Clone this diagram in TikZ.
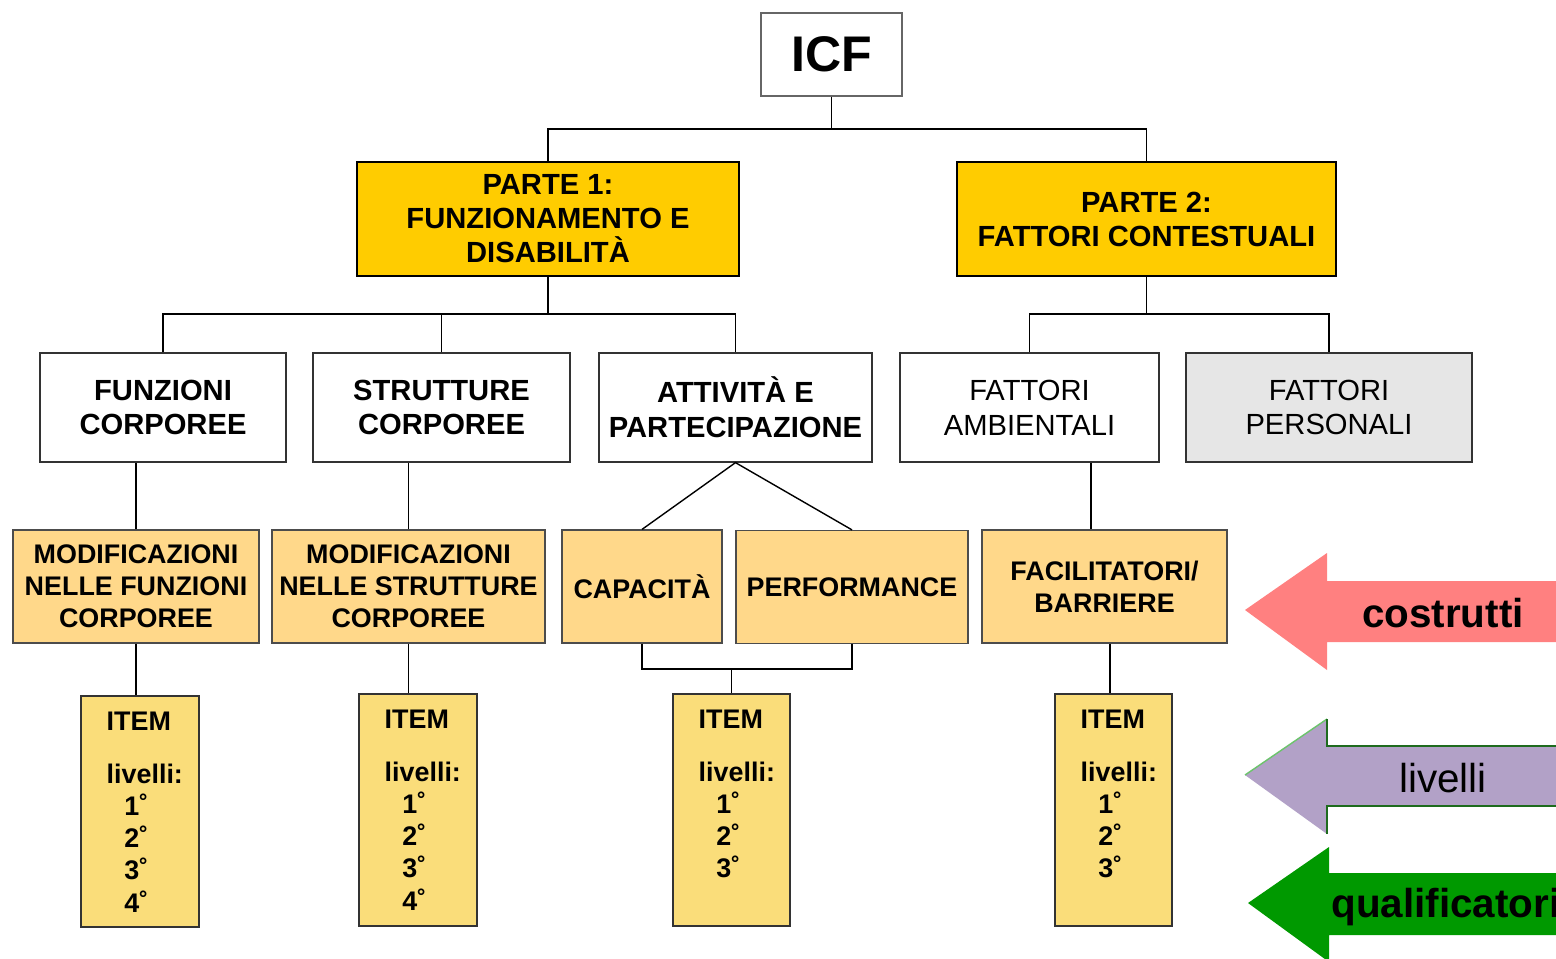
\documentclass[tikz,border=0pt]{standalone}
\usepackage{fontspec}
\setmainfont{Liberation Sans}
\usetikzlibrary{calc}
\definecolor{gold}{HTML}{FFCC00}
\definecolor{lorange}{HTML}{FFD88A}
\definecolor{itemy}{HTML}{FADD7A}
\definecolor{pgray}{HTML}{E6E6E6}
\definecolor{salmon}{HTML}{FF8080}
\definecolor{lilac}{HTML}{B2A1C7}
\definecolor{qgreen}{HTML}{009900}
\definecolor{dgreen}{HTML}{1E6B1E}
\definecolor{lgreen}{HTML}{6CC46C}
\begin{document}
\begin{tikzpicture}[x=0.02cm,y=-0.02cm,
  sz/.style 2 args={minimum width=#1*0.02cm, minimum height=#2*0.02cm},
  basebox/.style={inner sep=0pt, align=center, line width=0.7pt},
  wbox/.style={basebox, draw=black!80, fill=white, font=\bfseries\fontsize{16.6}{19.8}\selectfont},
  pbox/.style={basebox, draw=black, fill=gold, line width=1.2pt, font=\bfseries\fontsize{16.6}{19.3}\selectfont},
  obox/.style={basebox, draw=black!70, fill=lorange, font=\bfseries\fontsize{15.3}{18.2}\selectfont},
  ibox/.style={basebox, draw=black!80, fill=itemy},
  itext/.style={inner sep=0pt, align=left, anchor=north west, font=\bfseries\fontsize{15.3}{18.3}\selectfont},
  conn/.style={line width=0.8pt, black},
  arrowtext/.style={inner sep=0pt, font=\fontsize{23}{26}\selectfont}
]
\clip (0,0) rectangle (1556,958);
\fill[white] (0,0) rectangle (1556,958);

% top
\node[wbox, draw=black!60, sz={141}{83}, font=\bfseries\fontsize{28.5}{30}\selectfont] (icf) at (831.5,54.5) {ICF};
\node[pbox, sz={382}{114}] (p1) at (548,219) {PARTE 1:\\FUNZIONAMENTO E\\DISABILITÀ};
\node[pbox, sz={379}{114}] (p2) at (1146.5,219) {PARTE 2:\\FATTORI CONTESTUALI};

% level 2
\node[wbox, sz={246}{109}] (fc) at (163,407.5) {\raisebox{-3pt}{\parbox{4cm}{\centering FUNZIONI\\CORPOREE}}};
\node[wbox, sz={257}{109}] (sc) at (441.5,407.5) {\raisebox{-3pt}{\parbox{4cm}{\centering STRUTTURE\\CORPOREE}}};
\node[wbox, sz={273}{109}] (ap) at (735.5,407.5) {ATTIVITÀ E\\PARTECIPAZIONE};
\node[wbox, sz={259}{109}, font=\fontsize{16.6}{19.8}\selectfont] (fa) at (1029.5,407.5) {\raisebox{-2pt}{\parbox{4cm}{\centering FATTORI\\AMBIENTALI}}};
\node[wbox, sz={286}{109}, fill=pgray, font=\fontsize{16.6}{19.8}\selectfont] (fp) at (1329,407.5) {\raisebox{-2pt}{\parbox{4cm}{\centering FATTORI\\PERSONALI}}};

% level 3
\node[obox, sz={246}{113}] (mf) at (136,586.5) {MODIFICAZIONI\\NELLE FUNZIONI\\CORPOREE};
\node[obox, sz={273}{113}] (ms) at (408.5,586.5) {MODIFICAZIONI\\NELLE STRUTTURE\\CORPOREE};
\node[obox, sz={160}{113}] (cap) at (642,586.5) {CAPACITÀ};
\node[obox, sz={232}{113}] (perf) at (852,587) {PERFORMANCE};
\node[obox, sz={245}{113}] (fb) at (1104.5,586.5) {FACILITATORI/\\BARRIERE};

% items
\node[ibox, sz={118}{231}] (i1) at (140,811.5) {};
\node[ibox, sz={118}{232}] (i2) at (418,810) {};
\node[ibox, sz={117}{232}] (i3) at (731.5,810) {};
\node[ibox, sz={117}{232}] (i4) at (1113.5,810) {};
\node[itext] at ($(i1.north west)+(26,16)$) {ITEM\\[12pt]livelli:\\\hspace*{10pt}1˚\\\hspace*{10pt}2˚\\\hspace*{10pt}3˚\\\hspace*{10pt}4˚};
\node[itext] at ($(i2.north west)+(26,16)$) {ITEM\\[12pt]livelli:\\\hspace*{10pt}1˚\\\hspace*{10pt}2˚\\\hspace*{10pt}3˚\\\hspace*{10pt}4˚};
\node[itext] at ($(i3.north west)+(26,16)$) {ITEM\\[12pt]livelli:\\\hspace*{10pt}1˚\\\hspace*{10pt}2˚\\\hspace*{10pt}3˚};
\node[itext] at ($(i4.north west)+(26,16)$) {ITEM\\[12pt]livelli:\\\hspace*{10pt}1˚\\\hspace*{10pt}2˚\\\hspace*{10pt}3˚};

% connectors
\coordinate (j0) at (831.5,129);
\draw[conn] (icf.south) -- (j0);
\draw[conn] (p1.north) |- (j0) -| (p2.north);
\coordinate (j1) at (548,314);
\draw[conn] (p1.south) -- (j1);
\draw[conn] (fc.north) |- (ap.north |- j1) -- (ap.north);
\draw[conn] (sc.north) -- (sc.north |- j1);
\coordinate (j2) at (1146.5,314);
\draw[conn] (p2.south) -- (j2);
\draw[conn] (fa.north) |- (fp.north |- j2) -- (fp.north);

\draw[conn] (mf.north) -- (mf.north |- fc.south);
\draw[conn] (ms.north) -- (ms.north |- sc.south);
\draw[conn] (cap.north) -- (ap.south) -- (perf.north);
\draw[conn] ([xshift=1.23cm]fa.south) -- ([xshift=1.23cm]fa.south |- fb.north);

\draw[conn] (mf.south) -- (mf.south |- i1.north);
\draw[conn] (ms.south) -- (ms.south |- i2.north);
\coordinate (j3) at (731.5,669);
\draw[conn] (cap.south) |- (j3) -| (perf.south);
\draw[conn] (i3.north) -- (j3);
\draw[conn] ([xshift=0.11cm]fb.south) -- ([xshift=0.11cm]fb.south |- i4.north);

% side arrows
\fill[salmon] (1245,610) -- (1327,553) -- (1327,581) -- (1560,581) -- (1560,642) -- (1327,642) -- (1327,670) -- cycle;
\node[arrowtext, font=\bfseries\fontsize{23}{26}\selectfont] (tc) at (1443,613) {costrutti};

\fill[lilac] (1245,775) -- (1327,719) -- (1327,746) -- (1560,746) -- (1560,806) -- (1327,806) -- (1327,834) -- cycle;
\draw[lgreen, line width=0.8pt] (1245,775) -- (1327,719);
\draw[dgreen, line width=0.9pt] (1327,719) -- (1327,746) -- (1560,746);
\draw[dgreen, line width=0.9pt] (1560,806) -- (1327,806) -- (1327,834);
\node[arrowtext] (tl) at (1443,778) {livelli};

\fill[qgreen] (1248,903) -- (1329,847) -- (1329,873) -- (1560,873) -- (1560,935) -- (1329,935) -- (1329,962) -- cycle;
\node[arrowtext, anchor=west, font=\bfseries\fontsize{23}{26}\selectfont] (tq) at (1331,907) {qualificatori};
\end{tikzpicture}
\end{document}
